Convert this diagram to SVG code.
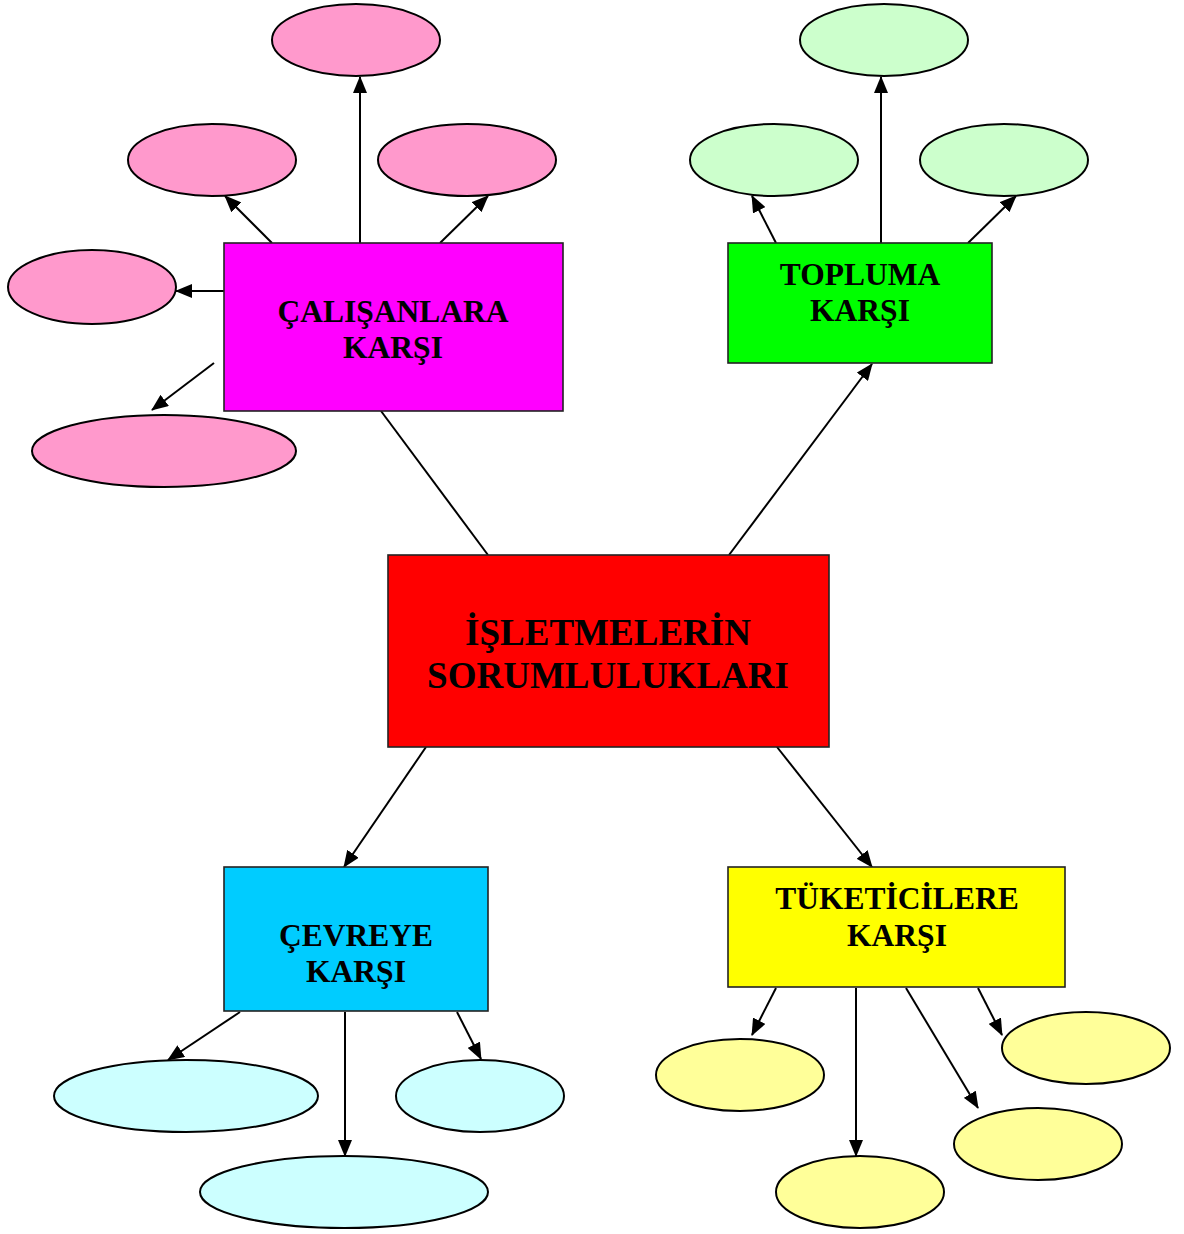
<svg xmlns="http://www.w3.org/2000/svg" width="1184" height="1234" viewBox="0 0 1184 1234">
<style>
.box{stroke:#222;stroke-width:1.6}
.ell{stroke:#000;stroke-width:2}
.lbl{font-family:"Liberation Serif","Times New Roman",serif;font-weight:bold;font-size:31.5px;text-anchor:middle;fill:#000}
.big{font-size:37px}
.con{stroke:#000;stroke-width:2;fill:none}
.arr{marker-end:url(#ah)}
</style>
<defs>
<marker id="ah" markerUnits="userSpaceOnUse" markerWidth="17" markerHeight="14" viewBox="0 0 17 14" refX="16" refY="7" orient="auto">
<path d="M0,0 L17,7 L0,14 Z" fill="#000"/>
</marker>
</defs>
<rect width="1184" height="1234" fill="#fff"/>
<g id="connectors">
<line class="con arr" x1="272" y1="243" x2="225" y2="196"/>
<line class="con arr" x1="360" y1="243" x2="360" y2="77"/>
<line class="con arr" x1="440" y1="243" x2="488" y2="196"/>
<line class="con arr" x1="224" y1="291" x2="176" y2="291"/>
<line class="con arr" x1="214" y1="363" x2="152" y2="410"/>
<line class="con" x1="488" y1="555" x2="381" y2="411"/>
<line class="con arr" x1="729" y1="555" x2="872" y2="364"/>
<line class="con arr" x1="426" y1="747" x2="344" y2="867"/>
<line class="con arr" x1="777" y1="747" x2="872" y2="867"/>
<line class="con arr" x1="776" y1="243" x2="752" y2="196"/>
<line class="con arr" x1="881" y1="243" x2="881" y2="77"/>
<line class="con arr" x1="968" y1="243" x2="1016" y2="196"/>
<line class="con arr" x1="240" y1="1012" x2="168" y2="1060"/>
<line class="con arr" x1="345" y1="1012" x2="345" y2="1156"/>
<line class="con arr" x1="457" y1="1012" x2="481" y2="1059"/>
<line class="con arr" x1="776" y1="988" x2="752" y2="1035"/>
<line class="con arr" x1="856" y1="988" x2="856" y2="1156"/>
<line class="con arr" x1="906" y1="988" x2="978" y2="1108"/>
<line class="con arr" x1="978" y1="988" x2="1002" y2="1035"/>
</g>
<g id="n-center">
<rect class="box" x="388" y="555" width="441" height="192" fill="#FF0000"/>
<text class="lbl big" x="608" y="645">İŞLETMELERİN</text>
<text class="lbl big" x="608" y="688">SORUMLULUKLARI</text>
</g>
<g id="n-calisanlar">
<rect class="box" x="224" y="243" width="339" height="168" fill="#FF00FF"/>
<text class="lbl" x="393" y="322">ÇALIŞANLARA</text>
<text class="lbl" x="393" y="358">KARŞI</text>
</g>
<g id="n-topluma">
<rect class="box" x="728" y="243" width="264" height="120" fill="#00FF00"/>
<text class="lbl" x="860" y="285">TOPLUMA</text>
<text class="lbl" x="860" y="321">KARŞI</text>
</g>
<g id="n-cevre">
<rect class="box" x="224" y="867" width="264" height="144" fill="#00CCFF"/>
<text class="lbl" x="356" y="946">ÇEVREYE</text>
<text class="lbl" x="356" y="982">KARŞI</text>
</g>
<g id="n-tuketici">
<rect class="box" x="728" y="867" width="337" height="120" fill="#FFFF00"/>
<text class="lbl" x="897" y="909">TÜKETİCİLERE</text>
<text class="lbl" x="897" y="946">KARŞI</text>
</g>
<g id="n-pink-1"><ellipse class="ell" cx="356" cy="40" rx="84" ry="36" fill="#FF99CC"/></g>
<g id="n-pink-2"><ellipse class="ell" cx="212" cy="160" rx="84" ry="36" fill="#FF99CC"/></g>
<g id="n-pink-3"><ellipse class="ell" cx="467" cy="160" rx="89" ry="36" fill="#FF99CC"/></g>
<g id="n-pink-4"><ellipse class="ell" cx="92" cy="287" rx="84" ry="37" fill="#FF99CC"/></g>
<g id="n-pink-5"><ellipse class="ell" cx="164" cy="451" rx="132" ry="36" fill="#FF99CC"/></g>
<g id="n-green-1"><ellipse class="ell" cx="884" cy="40" rx="84" ry="36" fill="#CCFFCC"/></g>
<g id="n-green-2"><ellipse class="ell" cx="774" cy="160" rx="84" ry="36" fill="#CCFFCC"/></g>
<g id="n-green-3"><ellipse class="ell" cx="1004" cy="160" rx="84" ry="36" fill="#CCFFCC"/></g>
<g id="n-cyan-1"><ellipse class="ell" cx="186" cy="1096" rx="132" ry="36" fill="#CCFFFF"/></g>
<g id="n-cyan-2"><ellipse class="ell" cx="480" cy="1096" rx="84" ry="36" fill="#CCFFFF"/></g>
<g id="n-cyan-3"><ellipse class="ell" cx="344" cy="1192" rx="144" ry="36" fill="#CCFFFF"/></g>
<g id="n-yellow-1"><ellipse class="ell" cx="740" cy="1075" rx="84" ry="36" fill="#FFFF99"/></g>
<g id="n-yellow-2"><ellipse class="ell" cx="860" cy="1192" rx="84" ry="36" fill="#FFFF99"/></g>
<g id="n-yellow-3"><ellipse class="ell" cx="1038" cy="1144" rx="84" ry="36" fill="#FFFF99"/></g>
<g id="n-yellow-4"><ellipse class="ell" cx="1086" cy="1048" rx="84" ry="36" fill="#FFFF99"/></g>
</svg>
